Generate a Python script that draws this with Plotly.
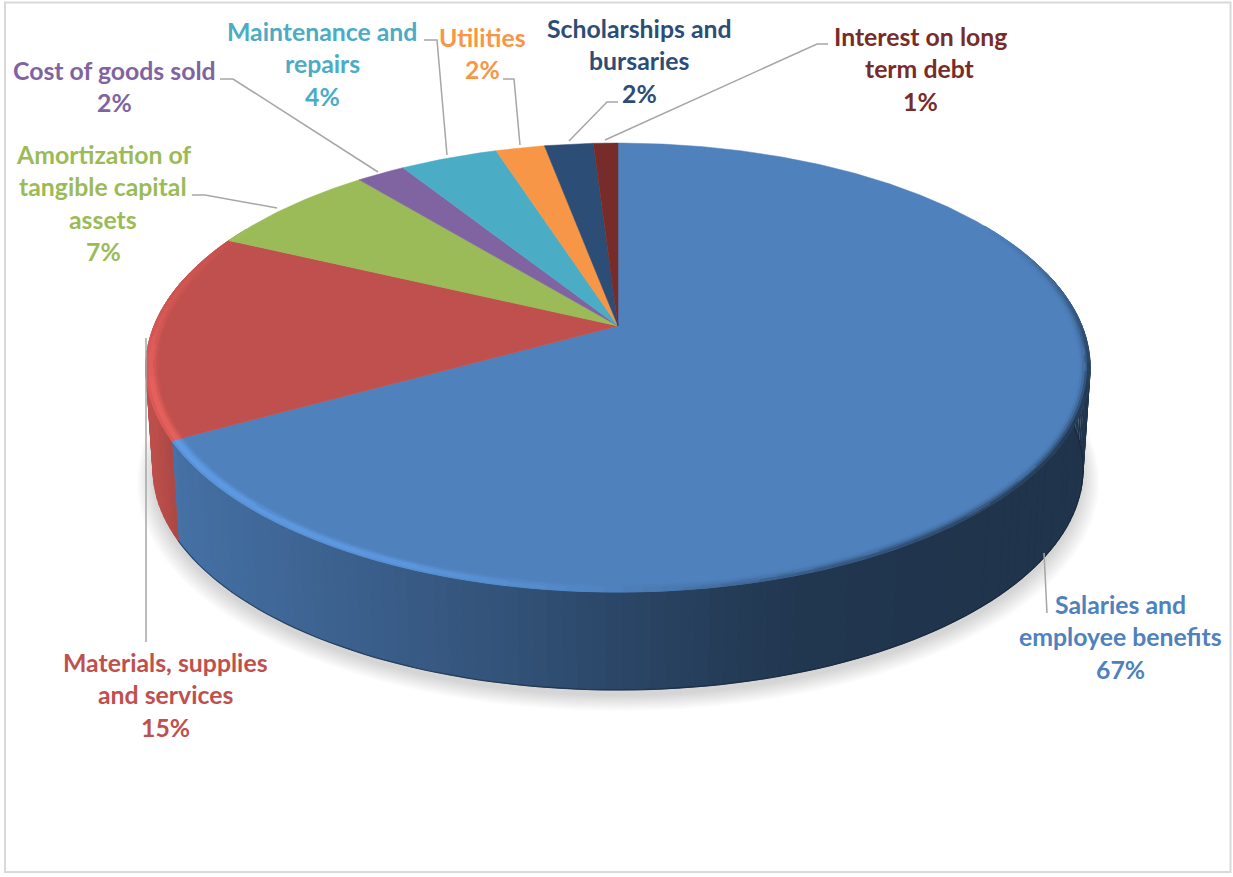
import numpy as np
import plotly.graph_objects as go

# Expense shares, clockwise from twelve o'clock
categories = [
    "Salaries and employee benefits",
    "Materials, supplies and services",
    "Amortization of tangible capital assets",
    "Cost of goods sold",
    "Maintenance and repairs",
    "Utilities",
    "Scholarships and bursaries",
    "Interest on long term debt",
]
shares = [67, 15, 7, 2, 4, 2, 2, 1]
slice_colors = ["#4f81bd", "#c0504d", "#9bbb59", "#8064a2", "#4bacc6", "#f79646", "#2c4d75", "#772c2a"]

# How each label breaks over its lines
label_lines = [
    ["Salaries and", "employee benefits"],
    ["Materials, supplies", "and services"],
    ["Amortization of", "tangible capital", "assets"],
    ["Cost of goods sold"],
    ["Maintenance and", "repairs"],
    ["Utilities"],
    ["Scholarships and", "bursaries"],
    ["Interest on long", "term debt"],
]
# Centre x and first-line y of each label block
label_pos = [(1120, 604), (165, 662), (103, 154), (114, 70), (322, 31), (482, 37), (639, 28), (920, 36)]
LINE_PITCH = 32.5

# Leader polylines, label side first; the last point sits on the pie rim
leaders = [
    [(1047, 613), (1044, 553)],
    [(146, 642), (146, 338)],
    [(192, 195), (205, 195), (277, 208)],
    [(220, 79), (233, 79), (378, 172)],
    [(424, 40), (437, 40), (447, 155)],
    [(503, 79), (514, 79), (520, 145)],
    [(618, 102), (607, 102), (569, 141)],
    [(828, 44), (817, 44), (605, 140)],
]

# Perspective disc: a unit circle is projected about the apex of the pie
CX, APEX_Y = 618.0, 326.0
RX, RY, K = 464.0, 216.8, 0.185
DEPTH, BOTTOM_SCALE = 102.0, 0.985
BEVEL = 0.975


def project(theta, r=1.0, scale=1.0, dy=0.0):
    u, v = r * np.sin(theta), r * np.cos(theta)
    w = 1 + K * v
    return CX + scale * RX * u / w, APEX_Y + dy - scale * RY * v / w


def rim(theta, scale=BOTTOM_SCALE, dy=DEPTH):
    return project(theta, 1.0, scale, dy)


def rgb(hex_color):
    return np.array([int(hex_color[i:i + 2], 16) for i in (1, 3, 5)], float)


def to_hex(c):
    c = np.clip(np.round(c), 0, 255).astype(int)
    return "#%02x%02x%02x" % tuple(c)


def wall_shade(x):
    return np.interp(x, [150, 178, 300, 500, 650, 800, 1000], [0.98, 0.87, 0.78, 0.64, 0.52, 0.42, 0.40])


def glow(x):
    return np.interp(x, [180, 400, 550, 650, 800, 1090], [1.2, 1.17, 1.08, 0.95, 0.72, 0.45])


def bevel_fade(deg):
    return np.interp(deg, [60, 105, 255, 300], [0.0, 1.0, 1.0, 0.0])


fig = go.Figure()


def add_polys(polys):
    # Polygons of one colour share a trace to keep the trace count down
    groups = {}
    for xs, ys, color in polys:
        g = groups.setdefault(color, ([], []))
        g[0].extend(list(xs) + [None])
        g[1].extend(list(ys) + [None])
    for color, (xs, ys) in groups.items():
        fig.add_trace(go.Scatter(x=xs, y=ys, mode="lines", fill="toself", fillcolor=color,
                                 line=dict(color=color, width=1), hoverinfo="skip", showlegend=False))


fractions = np.cumsum([0] + shares) / sum(shares) * 2 * np.pi
bounds = list(zip(fractions[:-1], fractions[1:]))
full = np.linspace(0, 2 * np.pi, 361)

# Soft drop shadow under the disc
for k in np.linspace(1.035, 1.0, 14):
    sx, sy = rim(full, BOTTOM_SCALE * k, DEPTH + 12 - 6 * (1.035 - k) / 0.035)
    fig.add_trace(go.Scatter(x=sx, y=sy, mode="lines", fill="toself", fillcolor="rgba(0,0,0,0.011)",
                             line=dict(width=0), hoverinfo="skip", showlegend=False))

# Side wall, shaded along x
STEP = np.radians(1.5)
wall = []
for (a0, a1), col in zip(bounds, slice_colors):
    n = max(1, int(np.ceil((a1 - a0) / STEP)))
    edges = np.linspace(a0, a1, n + 1)
    for t0, t1 in zip(edges[:-1], edges[1:]):
        if np.cos((t0 + t1) / 2) > 0.25:
            continue
        tx0, ty0 = project(t0)
        tx1, ty1 = project(t1)
        bx0, by0 = rim(t0)
        bx1, by1 = rim(t1)
        mid = (tx0 + tx1) / 2
        wall.append(([tx0, tx1, bx1, bx0, tx0], [ty0, ty1, by1, by0, ty0], to_hex(rgb(col) * wall_shade(mid))))
add_polys(wall)

# Thin dark line along the lower rim of the wall
edge_t = np.linspace(bounds[0][0] + np.radians(60), bounds[0][1], 120)
ex, ey = rim(edge_t)
fig.add_trace(go.Scatter(x=ex, y=ey, mode="lines", line=dict(color="rgba(18,28,48,0.5)", width=1.2),
                         hoverinfo="skip", showlegend=False))

# Top face of each slice
for (a0, a1), col in zip(bounds, slice_colors):
    t = np.linspace(a0, a1, max(3, int((a1 - a0) / np.radians(0.5))))
    x, y = project(t)
    fig.add_trace(go.Scatter(x=[CX] + list(x) + [CX], y=[APEX_Y] + list(y) + [APEX_Y], mode="lines",
                             fill="toself", fillcolor=col, line=dict(color=col, width=0.5),
                             hoverinfo="skip", showlegend=False))

# Rounded bevel along the rim of the top face
bands = np.linspace(BEVEL, 1.0, 6)
light_profile = [0.15, 0.55, 0.95, 1.0, 0.7]
dark_profile = [0.0, 0.1, 0.3, 0.65, 1.0]
bevel = []
for (a0, a1), col in zip(bounds, slice_colors):
    n = max(1, int(np.ceil((a1 - a0) / np.radians(2))))
    edges = np.linspace(a0, a1, n + 1)
    base = rgb(col)
    for t0, t1 in zip(edges[:-1], edges[1:]):
        deg = np.degrees((t0 + t1) / 2)
        fade = float(bevel_fade(deg))
        if fade <= 0:
            continue
        mx, _ = project((t0 + t1) / 2)
        g = float(glow(mx))
        target = base * g
        # Lit rim on the left blends into a plain falloff on the shaded side
        mix = np.clip((g - 0.85) / 0.3, 0, 1)
        profile = mix * np.array(light_profile) + (1 - mix) * np.array(dark_profile)
        for (r0, r1), p in zip(zip(bands[:-1], bands[1:]), profile):
            x0, y0 = project(t0, r0)
            x1, y1 = project(t1, r0)
            x2, y2 = project(t1, r1)
            x3, y3 = project(t0, r1)
            c = base + (target - base) * p * fade
            c = np.round(c / 3) * 3
            bevel.append(([x0, x1, x2, x3, x0], [y0, y1, y2, y3, y0], to_hex(c)))
add_polys(bevel)

# Leader lines
for path in leaders:
    fig.add_trace(go.Scatter(x=[p[0] for p in path], y=[p[1] for p in path], mode="lines",
                             line=dict(color="#a6a6a6", width=1.5), hoverinfo="skip", showlegend=False))

# Category labels with their share on the last line
annotations = []
for lines, share, col, (cx, y0) in zip(label_lines, shares, slice_colors, label_pos):
    for i, text in enumerate(lines + [f"{share}%"]):
        annotations.append(dict(x=cx, y=y0 + i * LINE_PITCH, xref="x", yref="y", text=text, showarrow=False,
                                xanchor="center", yanchor="middle",
                                font=dict(family="Lato", size=24.8, color=col, weight="bold")))

fig.update_layout(
    width=1233, height=877, margin=dict(l=0, r=0, t=0, b=0),
    paper_bgcolor="white", plot_bgcolor="white", showlegend=False,
    xaxis=dict(range=[0, 1233], visible=False, fixedrange=True),
    yaxis=dict(range=[877, 0], visible=False, fixedrange=True),
    annotations=annotations,
    shapes=[dict(type="rect", xref="x", yref="y", x0=5, y0=2.5, x1=1230.5, y1=872,
                 line=dict(color="#d9d9d9", width=2), layer="below")],
)

fig.write_html("out.html", config={"displayModeBar": False})
